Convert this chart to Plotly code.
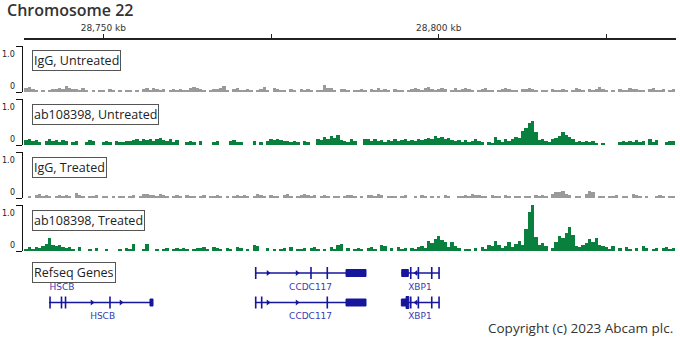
import plotly.graph_objects as go

# ---------------- data ----------------
BIN_START_KB = 28738.5   # centre of first 0.5 kb bin
BIN_KB = 0.5

track_names = ["IgG, Untreated", "ab108398, Untreated", "IgG, Treated", "ab108398, Treated"]
track_colors = ["#9a9a9a", "#0a803e", "#9a9a9a", "#0a803e"]

# signal in percent of the 1.0 scale, one value per 0.5 kb bin
igg_untreated = [
    8, 10, 6, 4, 0, 3, 0, 5, 6, 7, 9, 6, 12, 8, 6, 7, 5, 9, 4, 0,
    3, 0, 5, 4, 0, 6, 3, 0, 5, 0, 4, 3, 0, 4, 0, 6, 8, 5, 9, 6,
    4, 7, 0, 5, 6, 3, 7, 4, 5, 8, 10, 9, 6, 4, 0, 5, 7, 6, 9, 13,
    5, 0, 6, 8, 4, 3, 7, 5, 0, 5, 6, 10, 4, 0, 8, 6, 5, 3, 0, 6,
    4, 0, 7, 5, 6, 3, 0, 5, 4, 15, 9, 8, 5, 0, 7, 6, 3, 0, 5, 4,
    6, 3, 0, 7, 4, 8, 5, 6, 4, 0, 6, 4, 3, 0, 5, 7, 9, 6, 4, 8,
    10, 6, 5, 7, 9, 6, 0, 5, 8, 4, 6, 9, 7, 5, 0, 4, 6, 8, 5, 4,
    0, 5, 6, 9, 7, 5, 4, 0, 6, 7, 8, 6, 5, 0, 4, 3, 0, 6, 5, 4,
    7, 4, 0, 5, 9, 6, 4, 0, 6, 5, 7, 10, 6, 5, 0, 4, 0, 6, 5, 4,
    9, 6, 7, 5, 4, 0, 6, 8, 5, 4, 7, 0, 5, 6,
]
ab_untreated = [
    10, 12, 8, 11, 6, 0, 9, 12, 8, 10, 7, 11, 8, 0, 6, 8, 0, 0, 7, 10,
    8, 0, 0, 6, 9, 7, 0, 8, 6, 7, 9, 8, 10, 12, 9, 13, 11, 14, 9, 12,
    15, 10, 8, 13, 6, 10, 0, 0, 7, 9, 6, 0, 8, 0, 0, 0, 7, 9, 0, 0,
    0, 8, 10, 6, 7, 0, 0, 0, 8, 0, 6, 0, 9, 12, 11, 13, 10, 8, 9, 7,
    8, 6, 0, 9, 7, 0, 0, 14, 10, 18, 12, 20, 15, 22, 10, 9, 7, 12, 8, 0,
    0, 14, 12, 9, 13, 8, 10, 7, 11, 9, 12, 8, 10, 14, 9, 11, 8, 12, 10, 13,
    16, 12, 20, 15, 18, 12, 16, 10, 8, 10, 7, 11, 6, 9, 12, 8, 6, 0, 7, 5,
    18, 10, 6, 14, 8, 12, 18, 15, 30, 36, 48, 52, 28, 10, 14, 8, 6, 12, 16, 20,
    28, 22, 18, 12, 6, 8, 7, 9, 6, 8, 5, 0, 4, 0, 0, 0, 0, 7, 8, 6,
    9, 7, 10, 6, 8, 0, 12, 7, 10, 0, 0, 7, 9, 8,
]
igg_treated = [
    0, 4, 0, 6, 8, 5, 7, 4, 0, 5, 6, 3, 7, 5, 0, 11, 6, 4, 0, 5,
    4, 6, 0, 3, 5, 0, 4, 0, 3, 5, 0, 4, 6, 0, 5, 8, 9, 7, 6, 5,
    8, 6, 4, 0, 5, 7, 3, 0, 6, 4, 5, 0, 4, 6, 0, 5, 3, 6, 4, 0,
    5, 0, 4, 6, 3, 7, 5, 0, 4, 8, 6, 5, 0, 7, 4, 5, 0, 6, 8, 5,
    0, 4, 6, 8, 6, 5, 7, 0, 4, 6, 5, 0, 3, 5, 0, 4, 6, 7, 5, 0,
    4, 0, 6, 7, 3, 8, 6, 0, 5, 4, 3, 0, 5, 6, 0, 0, 4, 0, 6, 5,
    0, 4, 0, 5, 0, 6, 3, 0, 0, 4, 5, 6, 5, 8, 7, 6, 5, 4, 0, 6,
    5, 4, 0, 7, 5, 0, 4, 3, 0, 5, 4, 0, 6, 5, 7, 4, 0, 9, 14, 12,
    15, 8, 6, 0, 5, 4, 0, 8, 15, 12, 0, 4, 5, 0, 3, 4, 6, 0, 5, 4,
    0, 8, 6, 5, 0, 3, 0, 0, 5, 6, 4, 0, 3, 5,
]
ab_treated = [
    5, 8, 4, 9, 7, 10, 16, 28, 14, 10, 12, 8, 6, 9, 5, 0, 8, 0, 0, 5,
    0, 6, 0, 0, 4, 0, 0, 0, 5, 0, 6, 4, 15, 0, 0, 5, 15, 0, 0, 4,
    0, 5, 6, 0, 4, 7, 5, 6, 4, 0, 5, 7, 6, 8, 5, 0, 9, 6, 4, 0,
    7, 5, 0, 8, 6, 0, 4, 0, 12, 10, 0, 0, 6, 0, 5, 0, 4, 6, 0, 8,
    0, 5, 4, 7, 0, 6, 9, 5, 0, 4, 0, 8, 5, 13, 15, 0, 6, 0, 4, 7,
    5, 0, 6, 8, 5, 0, 12, 10, 0, 6, 0, 8, 5, 7, 0, 6, 5, 8, 10, 7,
    22, 18, 26, 33, 24, 20, 8, 20, 10, 6, 0, 5, 4, 0, 6, 0, 8, 5, 14, 10,
    22, 12, 6, 10, 20, 8, 15, 22, 14, 48, 85, 100, 30, 12, 18, 10, 0, 6, 20, 32,
    28, 40, 52, 35, 10, 8, 12, 18, 26, 20, 28, 14, 10, 8, 5, 10, 0, 6, 0, 9,
    5, 0, 7, 0, 10, 6, 0, 5, 7, 0, 6, 8, 5, 6,
]
track_values = [igg_untreated, ab_untreated, igg_treated, ab_treated]

# x-axis ticks (kb)
x_tickvals = [28750, 28775, 28800, 28825]
x_ticktext = ["28,750 kb", "", "28,800 kb", ""]

# RefSeq genes (kb)
gene_names = ["HSCB", "HSCB", "CCDC117", "CCDC117", "XBP1", "XBP1"]
gene_rows = [0, 1, 0, 1, 0, 1]
gene_starts = [28741.9, 28741.9, 28772.7, 28772.7, 28794.45, 28794.4]
gene_ends = [28745.3, 28757.4, 28789.16, 28789.16, 28800.05, 28800.05]
gene_strands = ["+", "+", "+", "+", "-", "-"]
gene_label_x = [28743.85, 28749.9, 28780.9, 28780.9, 28797.2, 28797.2]
gene_narrow_exons = [
    [28742.06, 28743.77, 28744.37],
    [28742.06, 28743.77, 28744.37, 28751.0],
    [28772.72, 28780.96, 28783.39],
    [28772.72, 28773.61, 28783.39],
    [28795.83, 28796.97, 28798.96, 28800.05],
    [28795.83, 28796.97, 28798.96, 28800.05],
]
gene_utr_exons = [
    [],
    [(28756.96, 28757.41)],
    [(28786.18, 28789.16)],
    [(28786.18, 28789.16)],
    [(28794.49, 28795.47)],
    [(28794.43, 28795.13)],
]
gene_cds_exons = [[], [], [], [], [], [(28795.13, 28795.55)]]
gene_arrows = [
    [],
    [28748.32, 28752.64],
    [28774.55, 28778.88],
    [28774.55, 28778.88],
    [28796.62],
    [28796.62],
]

# ---------------- layout geometry (pixels) ----------------
W, H = 680, 340
ML, MR, MT, MB = 22, 4, 39, 12
PW, PH = W - ML - MR, H - MT - MB
X_LEFT_KB, X_RIGHT_KB = 28738.18, 28835.37
track_tops = [46, 99, 152, 205]
TRACK_H = 46
GENE_TOP = 262
row_y = [11, 40.5]
label_dy = 14.5

GENE_COLOR = "#16169c"
GENE_LABEL_COLOR = "#3a3ab4"


def py(px):
    """pixel row -> paper fraction"""
    return (H - MB - px) / PH


def pxx(px):
    return (px - ML) / PW


fig = go.Figure()

centers = [BIN_START_KB + BIN_KB * i for i in range(len(igg_untreated))]

layout_axes = {}
annotations = []
for k, (name, vals, col) in enumerate(zip(track_names, track_values, track_colors)):
    yname = "y" if k == 0 else f"y{k + 1}"
    fig.add_trace(go.Bar(
        x=centers, y=[v / 100 for v in vals], width=BIN_KB,
        marker=dict(color=col, line=dict(width=0)),
        xaxis="x", yaxis=yname, showlegend=False, hoverinfo="skip",
    ))
    top = track_tops[k]
    key = "yaxis" if k == 0 else f"yaxis{k + 1}"
    layout_axes[key] = dict(
        domain=[py(top + TRACK_H), py(top)], range=[0, 1],
        anchor="free", position=0, showline=True, linecolor="#111", linewidth=1,
        ticks="outside", ticklen=6, tickcolor="#111", tickwidth=1,
        tickvals=[0, 1], showticklabels=False, showgrid=False, zeroline=False,
        fixedrange=True,
    )
    annotations.append(dict(
        text="1.0", xref="paper", yref=f"{yname} domain", x=pxx(17), y=1,
        xanchor="right", yanchor="top", yshift=-2, showarrow=False,
        font=dict(family="DejaVu Sans", size=8, color="#222"),
    ))
    annotations.append(dict(
        text="0", xref="paper", yref=f"{yname} domain", x=pxx(17), y=0,
        xanchor="right", yanchor="bottom", yshift=-1, showarrow=False,
        font=dict(family="DejaVu Sans", size=8, color="#222"),
    ))
    annotations.append(dict(
        text=name, xref="paper", yref="paper", x=pxx(32), y=py(top + 15),
        xanchor="left", yanchor="middle", showarrow=False,
        font=dict(family="Open Sans", size=12.5, color="#222"),
        bgcolor="white", bordercolor="#555", borderwidth=1, borderpad=1,
    ))

# gene track
gy = "y5"
line_x, line_y = [], []
shapes = []
arr_r_x, arr_r_y, arr_l_x, arr_l_y = [], [], [], []
for i in range(len(gene_names)):
    yc = row_y[gene_rows[i]]
    line_x += [gene_starts[i], gene_ends[i], None]
    line_y += [yc, yc, None]
    for e in gene_narrow_exons[i]:
        shapes.append(dict(type="line", xref="x", yref=gy, x0=e, x1=e,
                           y0=yc - 6, y1=yc + 6, line=dict(color=GENE_COLOR, width=1.6)))
    for (a, b) in gene_utr_exons[i]:
        shapes.append(dict(type="rect", xref="x", yref=gy, x0=a, x1=b,
                           y0=yc - 3.5, y1=yc + 3.5, fillcolor=GENE_COLOR,
                           line=dict(color=GENE_COLOR, width=1)))
    for (a, b) in gene_cds_exons[i]:
        shapes.append(dict(type="rect", xref="x", yref=gy, x0=a, x1=b,
                           y0=yc - 6, y1=yc + 6, fillcolor=GENE_COLOR,
                           line=dict(color=GENE_COLOR, width=1)))
    for a in gene_arrows[i]:
        if gene_strands[i] == "+":
            arr_r_x.append(a); arr_r_y.append(yc)
        else:
            arr_l_x.append(a); arr_l_y.append(yc)

fig.add_trace(go.Scatter(x=line_x, y=line_y, mode="lines", xaxis="x", yaxis=gy,
                         line=dict(color=GENE_COLOR, width=1.5),
                         showlegend=False, hoverinfo="skip"))
fig.add_trace(go.Scatter(x=arr_r_x, y=arr_r_y, mode="markers", xaxis="x", yaxis=gy,
                         marker=dict(symbol="triangle-right", size=5, color=GENE_COLOR),
                         showlegend=False, hoverinfo="skip"))
fig.add_trace(go.Scatter(x=arr_l_x, y=arr_l_y, mode="markers", xaxis="x", yaxis=gy,
                         marker=dict(symbol="triangle-left", size=5, color=GENE_COLOR),
                         showlegend=False, hoverinfo="skip"))
fig.add_trace(go.Scatter(
    x=gene_label_x, y=[row_y[r] + label_dy for r in gene_rows], mode="text",
    text=gene_names, textposition="middle center", xaxis="x", yaxis=gy,
    textfont=dict(family="DejaVu Sans", size=9, color=GENE_LABEL_COLOR),
    showlegend=False, hoverinfo="skip"))

layout_axes["yaxis5"] = dict(domain=[0, py(GENE_TOP)], range=[H - MB - GENE_TOP, 0],
                             anchor="free", position=0, visible=False, fixedrange=True)

annotations.append(dict(
    text="Refseq Genes", xref="paper", yref="paper", x=pxx(32), y=py(272),
    xanchor="left", yanchor="middle", showarrow=False,
    font=dict(family="Open Sans", size=12.5, color="#222"),
    bgcolor="white", bordercolor="#555", borderwidth=1, borderpad=1,
))
annotations.append(dict(
    text="Chromosome 22", xref="paper", yref="paper", x=pxx(5), y=py(10.5),
    xanchor="left", yanchor="middle", showarrow=False,
    font=dict(family="Open Sans", size=16, color="#333", weight=600),
))
annotations.append(dict(
    text="Copyright (c) 2023 Abcam plc.", xref="paper", yref="paper", x=pxx(675), y=py(328),
    xanchor="right", yanchor="middle", showarrow=False,
    font=dict(family="Open Sans", size=13.5, color="#333"),
))

fig.update_layout(
    width=W, height=H,
    margin=dict(l=ML, r=MR, t=MT, b=MB),
    paper_bgcolor="white", plot_bgcolor="white",
    bargap=0, barmode="overlay",
    xaxis=dict(domain=[2 / PW, 1], range=[X_LEFT_KB, X_RIGHT_KB], side="top",
               anchor="free", position=1, showline=True, linecolor="#222", linewidth=1.5,
               ticks="outside", ticklen=4, tickcolor="#222", tickwidth=1,
               tickvals=x_tickvals, ticktext=x_ticktext, showgrid=False, zeroline=False,
               tickfont=dict(family="DejaVu Sans", size=9, color="#333"), fixedrange=True),
    annotations=annotations,
    shapes=shapes,
    **layout_axes,
)

fig.write_html("out.html")
